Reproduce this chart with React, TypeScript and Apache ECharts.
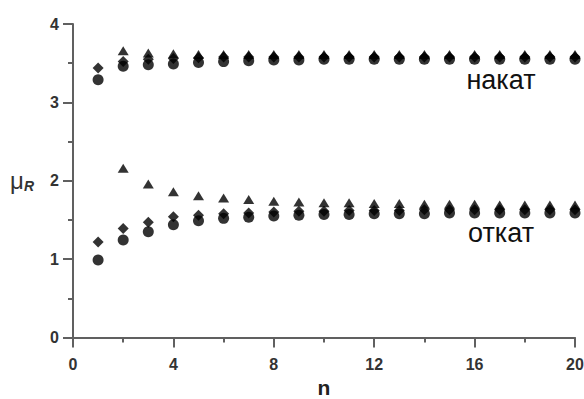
import React, { useEffect, useRef } from "react";
import * as echarts from "echarts";

const nValues = [1, 2, 3, 4, 5, 6, 7, 8, 9, 10, 11, 12, 13, 14, 15, 16, 17, 18, 19, 20];

// накат (upper group)
const nakatCircle = [3.29, 3.46, 3.48, 3.49, 3.51, 3.52, 3.53, 3.54, 3.54, 3.55, 3.55, 3.55, 3.55, 3.55, 3.55, 3.55, 3.55, 3.55, 3.55, 3.55];
const nakatDiamond = [3.44, 3.52, 3.55, 3.56, 3.57, 3.58, 3.58, 3.58, 3.58, 3.58, 3.58, 3.58, 3.58, 3.58, 3.58, 3.58, 3.58, 3.58, 3.58, 3.58];
const nakatTriangle = [null, 3.66, 3.63, 3.62, 3.61, 3.61, 3.61, 3.61, 3.61, 3.61, 3.61, 3.61, 3.61, 3.61, 3.61, 3.61, 3.61, 3.61, 3.61, 3.61];

// откат (lower group)
const otkatCircle = [0.99, 1.245, 1.35, 1.44, 1.49, 1.52, 1.535, 1.55, 1.56, 1.57, 1.57, 1.58, 1.58, 1.58, 1.59, 1.59, 1.59, 1.59, 1.59, 1.59];
const otkatDiamond = [1.22, 1.39, 1.47, 1.54, 1.56, 1.58, 1.59, 1.6, 1.61, 1.61, 1.62, 1.62, 1.62, 1.63, 1.63, 1.63, 1.63, 1.63, 1.63, 1.63];
const otkatTriangle = [null, 2.16, 1.96, 1.86, 1.81, 1.78, 1.76, 1.74, 1.73, 1.72, 1.72, 1.71, 1.71, 1.7, 1.7, 1.7, 1.69, 1.69, 1.69, 1.69];

const groupLabels = ["накат", "откат"];
const xName = "n";

const pairs = (ys: (number | null)[]) =>
  nValues.map((n, i) => [n, ys[i]]).filter((p) => p[1] !== null);

export default function App() {
  const ref = useRef<HTMLDivElement>(null);
  useEffect(() => {
    if (!ref.current) return;
    const chart = echarts.init(ref.current, null, { renderer: "svg" });
    const axisColor = "#606060";
    const font = "Liberation Sans, Arial, sans-serif";
    const labelStyle = {
      color: "#333333",
      fontFamily: font,
      fontWeight: "bold" as const,
      fontSize: 16,
    };
    const markColor = "#000000";
    const axisCommon = {
      axisLine: { show: true, onZero: false, lineStyle: { color: axisColor, width: 2, opacity: 1 } },
      axisTick: { show: true, inside: false, length: 10, lineStyle: { color: axisColor, width: 2, opacity: 1 } },
      minorTick: { show: true, splitNumber: 2, length: 5, lineStyle: { color: axisColor, width: 2, opacity: 1 } },
      splitLine: { show: false },
      minorSplitLine: { show: false },
    };
    chart.setOption({
      animation: false,
      backgroundColor: "#ffffff",
      grid: { left: 73, right: 9, top: 24, bottom: 61.5, containLabel: false, outerBoundsMode: "none" },
      xAxis: {
        type: "value",
        min: 0,
        max: 20,
        interval: 4,
        name: xName,
        nameLocation: "middle",
        nameGap: 38,
        nameTextStyle: {
          color: "#222",
          fontFamily: font,
          fontWeight: "bold",
          fontSize: 21,
        },
        ...axisCommon,
        axisLabel: { ...labelStyle, margin: 19 },
      },
      yAxis: {
        type: "value",
        min: 0,
        max: 4,
        interval: 1,
        name: "{mu|μ}{r|R}",
        nameLocation: "middle",
        nameRotate: 0,
        nameGap: 39,
        nameTextStyle: {
          rich: {
            mu: { fontFamily: font, fontSize: 24, color: "#333" },
            r: {
              fontFamily: font,
              fontSize: 14,
              fontWeight: "bold",
              fontStyle: "italic",
              color: "#333",
              padding: [10, 0, 0, 0],
            },
          },
        },
        ...axisCommon,
        axisLabel: { ...labelStyle, margin: 14 },
      },
      series: [
        {
          type: "scatter",
          symbol: "circle",
          symbolSize: 11,
          itemStyle: { color: markColor },
          data: [...pairs(nakatCircle), ...pairs(otkatCircle)],
        },
        {
          type: "scatter",
          symbol: "diamond",
          symbolSize: [11, 11],
          itemStyle: { color: markColor },
          data: [...pairs(nakatDiamond), ...pairs(otkatDiamond)],
        },
        {
          type: "scatter",
          symbol: "triangle",
          symbolSize: [11, 9],
          itemStyle: { color: markColor },
          data: [...pairs(nakatTriangle), ...pairs(otkatTriangle)],
        },
      ],
      graphic: [
        {
          type: "text",
          x: 501,
          y: 80,
          style: {
            text: groupLabels[0],
            fill: "#111",
            font: "27px 'Liberation Sans', Arial, sans-serif",
            textAlign: "center",
            textVerticalAlign: "middle",
          },
        },
        {
          type: "text",
          x: 501,
          y: 233,
          style: {
            text: groupLabels[1],
            fill: "#111",
            font: "27px 'Liberation Sans', Arial, sans-serif",
            textAlign: "center",
            textVerticalAlign: "middle",
          },
        },
      ],
    });
    return () => chart.dispose();
  }, []);
  return <div ref={ref} style={{ width: 584, height: 399, position: "absolute", left: 0, top: 0 }} />;
}
